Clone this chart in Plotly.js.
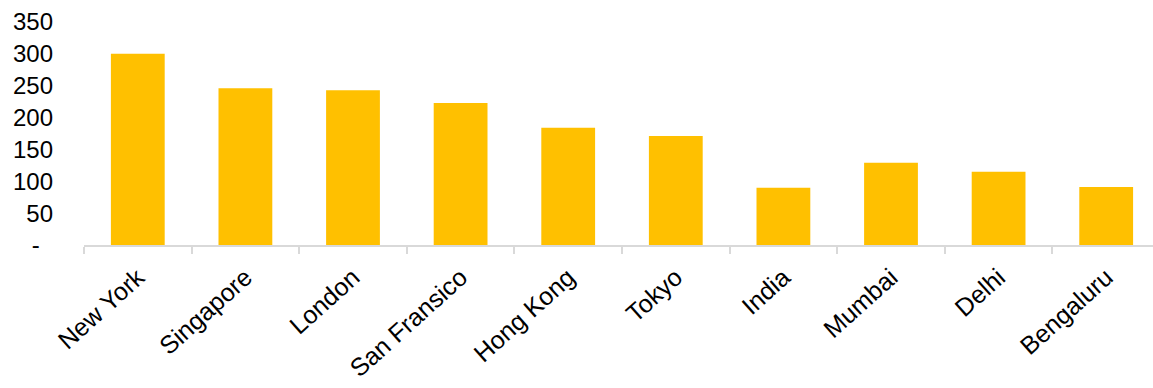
<!DOCTYPE html>
<html>
<head>
<meta charset="utf-8">
<script src="https://cdn.plot.ly/plotly-3.0.1.min.js"></script>
<style>html,body{margin:0;padding:0;background:#fff;}#chart{width:1153px;height:388px;}</style>
</head>
<body>
<div id="chart"></div>
<script>
const categories = ["New York", "Singapore", "London", "San Fransico", "Hong Kong", "Tokyo", "India", "Mumbai", "Delhi", "Bengaluru"];
const values = [300, 246, 243, 223, 184, 171, 90, 129, 115, 91];
const yTickValues = [0, 50, 100, 150, 200, 250, 300, 350];
const yTickLabels = ["-\u00a0\u00a0", "50", "100", "150", "200", "250", "300", "350"];

const trace = {
  type: "bar",
  x: categories,
  y: values,
  marker: {color: "#FFC000"},
  width: 0.5,
  hoverinfo: "x+y"
};

const FONT = "Liberation Sans, Arial, sans-serif";

const layout = {
  width: 1153,
  height: 388,
  margin: {l: 84, r: 0, t: 22, b: 142.5},
  paper_bgcolor: "#ffffff",
  plot_bgcolor: "#ffffff",
  showlegend: false,
  font: {family: FONT, size: 24, color: "#000000"},
  xaxis: {
    type: "category",
    range: [-0.5, 9.435],
    showline: true,
    linecolor: "#d9d9d9",
    linewidth: 2,
    ticks: "outside",
    tickson: "boundaries",
    ticklen: 7,
    tickwidth: 2,
    tickcolor: "#d9d9d9",
    tickangle: -42,
    ticklabelstandoff: 6,
    showgrid: false,
    zeroline: false,
    tickfont: {family: FONT, size: 25, color: "#000000"}
  },
  yaxis: {
    range: [0, 350],
    tickvals: yTickValues,
    ticktext: yTickLabels,
    showline: false,
    showgrid: false,
    zeroline: false,
    ticks: "",
    ticklabelstandoff: 30,
    tickfont: {family: FONT, size: 24, color: "#000000"}
  }
};

Plotly.newPlot("chart", [trace], layout, {displayModeBar: false, staticPlot: true});
</script>
</body>
</html>
